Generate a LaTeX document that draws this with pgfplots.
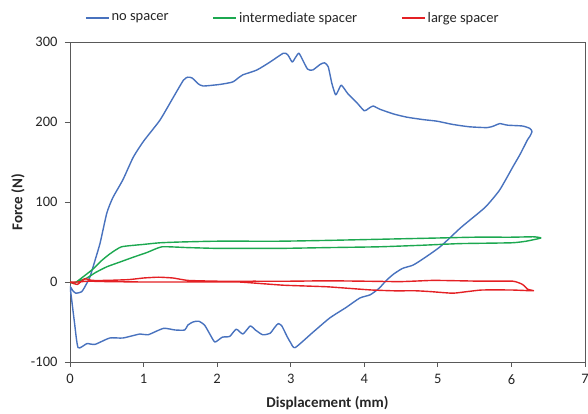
\documentclass[border=0pt]{standalone}
\usepackage{fontspec}
\setmainfont{Carlito}
\usepackage{pgfplots}
\pgfplotsset{compat=1.18}
\definecolor{cblue}{RGB}{72,114,190}
\definecolor{cgreen}{RGB}{28,168,80}
\definecolor{cred}{RGB}{228,32,36}
\begin{document}
\begin{tikzpicture}
\begin{axis}[name=ax,
  width=515pt, height=320pt, scale only axis,
  xmin=0, xmax=7, ymin=-100, ymax=300,
  xtick={0,1,...,7}, ytick={-100,0,100,200,300},
  tick align=outside, tick pos=left, major tick length=5pt,
  axis line style={black!65, line width=0.8pt},
  every tick/.style={black!65, line width=0.8pt},
  /pgf/number format/assume math mode=true,
  tick label style={font=\fontsize{14.5}{16}\selectfont, text=black!85},
  xticklabel style={yshift=-4pt},
  yticklabel style={xshift=-4pt},
  xlabel={Displacement (mm)}, ylabel={Force (N)},
  label style={font=\bfseries\fontsize{15}{17}\selectfont, text=black!85},
  xlabel style={at={(axis description cs:0.5,-0.13)}, anchor=center},
  ylabel style={at={(axis description cs:-0.101,0.5)}, anchor=center},
  legend columns=3,
  legend style={at={(axis description cs:0.029,1.075)}, anchor=west,
    draw=none, fill=none, inner sep=0pt,
    font=\fontsize{14.5}{16}\selectfont, text=black!85,
    /tikz/every even column/.append style={column sep=42pt}},
  legend image code/.code={\draw[#1] (0pt,0pt) -- (23pt,0pt);},
  every axis plot/.append style={line width=1.4pt, line join=round},
]
\addplot[cblue, smooth, tension=0.35] coordinates {
(0,-5) (0.04,-11) (0.08,-14) (0.16,-12) (0.22,-3) (0.27,6) (0.34,27) (0.41,49) (0.5,86) (0.58,105) (0.72,128) (0.86,156) (1.0,176) (1.22,202) (1.38,227) (1.54,252) (1.6,256) (1.66,255) (1.74,248) (1.81,245) (2.04,247) (2.21,250) (2.3,256) (2.35,259) (2.54,265) (2.72,275) (2.9,286) (2.96,284) (3.02,275) (3.06,280) (3.11,286) (3.16,278) (3.23,266) (3.3,265) (3.4,272) (3.46,274) (3.51,269) (3.56,248) (3.61,234) (3.65,240) (3.69,246) (3.78,235) (3.9,224) (4.0,214) (4.06,217) (4.12,220) (4.21,216) (4.4,210) (4.58,206) (4.8,203) (4.99,201) (5.2,197) (5.43,194) (5.67,193) (5.76,195) (5.84,198) (5.95,196) (6.15,195) (6.25,192) (6.28,188) (6.25,182) (6.22,178) (6.12,160) (6.02,144) (5.84,115) (5.65,94) (5.43,77) (5.3,67) (5.03,44) (4.8,29) (4.66,21) (4.52,17) (4.4,10) (4.3,2) (4.2,-8) (4.08,-16) (3.94,-20) (3.75,-32) (3.53,-45) (3.3,-63) (3.06,-82) (3.0,-76) (2.95,-68) (2.88,-55) (2.83,-52) (2.78,-57) (2.72,-64) (2.62,-66) (2.52,-60) (2.45,-55) (2.35,-65) (2.26,-59) (2.17,-68) (2.07,-69) (1.97,-75) (1.9,-65) (1.83,-54) (1.75,-49) (1.67,-50) (1.6,-54) (1.56,-60) (1.43,-60) (1.27,-58) (1.06,-66) (0.95,-65) (0.72,-70) (0.54,-70) (0.34,-78) (0.23,-77) (0.11,-82) (0.06,-50) (0.02,-20) (0,-5)
};
\addlegendentry{no spacer}
\addplot[cgreen, smooth, tension=0.3] coordinates {
(0,0) (0.05,-2) (0.1,1) (0.2,8) (0.31,16) (0.42,26) (0.54,35) (0.7,44) (1.0,47) (1.22,49) (1.5,50) (2,51) (2.85,51) (3.5,52) (4,53) (4.5,54) (5,55) (5.5,56) (6.0,56) (6.3,56.5) (6.4,55) (6.2,51) (6.0,49) (5.3,48) (4.8,46) (4.2,44) (3.5,43) (2.85,42) (2.3,42) (2,42) (1.6,43) (1.25,44) (1.05,37) (0.86,31) (0.68,25) (0.5,19) (0.35,12) (0.23,5) (0.12,1) (0.05,-1) (0,0)
};
\addlegendentry{intermediate spacer}
\addplot[cred, smooth, tension=0.3] coordinates {
(0,0) (0.1,-3) (0.2,4) (0.3,2) (0.5,2) (0.8,3) (1.0,5) (1.2,6) (1.4,5) (1.6,2) (2,1) (2.5,1) (3,1) (3.5,1.5) (4,1) (4.5,0.5) (4.93,2) (5.3,1.5) (5.6,1) (6.02,1) (6.15,-3) (6.22,-9) (6.3,-11) (6.0,-10) (5.6,-10) (5.4,-12) (5.2,-14) (4.9,-12) (4.7,-11) (4.4,-11) (4.1,-10) (3.8,-8) (3.5,-6) (3.2,-5) (2.9,-4) (2.6,-2) (2.3,0) (2,0) (1.5,0) (1.0,0) (0.5,0.5) (0.25,1) (0.1,0) (0,0)
};
\addlegendentry{large spacer}
\end{axis}
\pgfresetboundingbox
\path[use as bounding box] (ax.south west) ++(-70pt,-52pt) rectangle ++(588pt,414pt);
\end{tikzpicture}
\end{document}
